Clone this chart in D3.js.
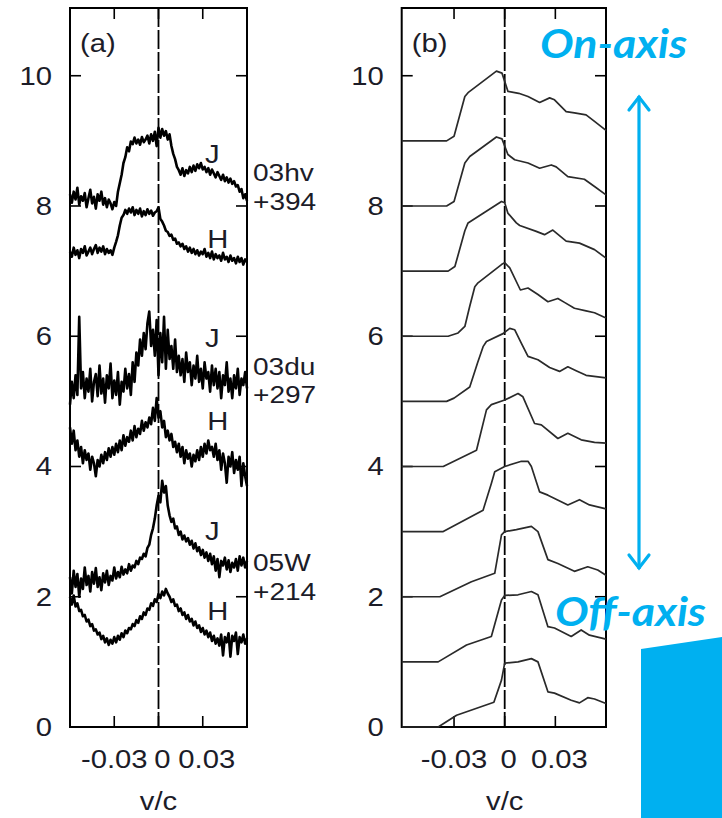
<!DOCTYPE html>
<html><head><meta charset="utf-8">
<script src="https://cdn.jsdelivr.net/npm/d3@7"></script>
<style>
html,body{margin:0;padding:0;background:#fff;}
svg{display:block;}
</style></head><body>
<svg id="fig" width="722" height="818"></svg>
<script>
// ---------- panel (a): observed line profiles, sampled on a regular velocity grid ----------
const obsStart = -0.06, obsStep = 0.00125;
const hvJ = [8.18,8.05,8.22,8.10,8.28,8.02,8.15,8.08,8.20,7.98,
  8.12,8.25,8.04,8.14,7.96,8.18,8.08,8.22,8.02,8.12,
  7.98,8.10,8.04,7.95,8.06,8.00,8.22,8.35,8.48,8.66,
  8.75,8.90,8.84,8.99,8.95,9.05,8.96,9.02,8.94,9.06,
  8.98,9.02,9.08,8.96,9.10,9.00,9.14,8.92,9.20,9.05,
  9.18,9.08,9.15,9.02,9.10,8.92,8.80,8.72,8.60,8.55,
  8.48,8.58,8.46,8.55,8.50,8.60,8.52,8.62,8.54,8.64,
  8.58,8.66,8.56,8.60,8.52,8.58,8.48,8.56,8.50,8.44,
  8.52,8.46,8.40,8.48,8.38,8.44,8.36,8.42,8.34,8.38,
  8.30,8.32,8.22,8.26,8.12,8.18,8.08];
const hvH = [7.30,7.22,7.36,7.25,7.32,7.20,7.34,7.28,7.38,7.24,
  7.30,7.36,7.26,7.34,7.40,7.28,7.36,7.30,7.38,7.26,
  7.34,7.28,7.32,7.25,7.36,7.45,7.55,7.70,7.82,7.86,
  7.94,7.88,7.96,7.90,7.98,7.86,7.94,7.88,7.96,7.84,
  7.92,7.86,7.95,7.88,7.93,7.85,7.90,7.92,7.98,7.80,
  7.76,7.70,7.62,7.60,7.54,7.56,7.48,7.50,7.42,7.44,
  7.38,7.42,7.34,7.38,7.30,7.36,7.28,7.34,7.26,7.32,
  7.24,7.30,7.26,7.34,7.22,7.28,7.20,7.30,7.18,7.26,
  7.20,7.24,7.16,7.28,7.18,7.22,7.14,7.24,7.16,7.20,
  7.12,7.22,7.14,7.20,7.10,7.18,7.14];
const duJ = [4.95,5.30,5.05,5.40,5.10,6.30,5.20,5.45,5.05,5.35,
  5.15,5.50,5.00,5.30,5.42,5.08,5.55,5.12,5.35,4.98,
  5.40,5.20,5.58,5.05,5.32,5.10,5.45,4.95,5.30,5.15,
  5.50,5.20,5.42,5.10,5.60,5.30,5.75,5.55,5.95,5.70,
  6.05,5.80,6.20,6.38,5.85,6.10,5.70,6.25,5.40,6.05,
  5.60,6.30,5.50,6.10,5.65,5.85,5.50,5.95,5.45,5.70,
  5.40,5.65,5.30,5.75,5.45,5.60,5.25,5.55,5.35,5.70,
  5.30,5.50,5.20,5.60,5.35,5.45,5.15,5.55,5.25,5.50,
  5.20,5.45,5.05,5.40,5.25,5.60,5.15,5.35,5.05,5.40,
  5.20,5.50,5.10,5.35,5.25,5.45,5.20];
const duH = [4.60,4.35,4.55,4.25,4.40,4.15,4.30,4.05,4.25,4.10,
  4.20,3.95,4.15,4.05,3.85,4.10,4.00,4.18,4.05,4.22,
  4.10,4.28,4.15,4.30,4.18,4.35,4.22,4.40,4.25,4.48,
  4.32,4.45,4.38,4.55,4.40,4.62,4.45,4.58,4.50,4.70,
  4.55,4.68,4.60,4.75,4.65,4.90,4.70,5.05,4.75,4.85,
  4.60,4.70,4.45,4.55,4.40,4.50,4.30,4.38,4.22,4.35,
  4.15,4.30,4.05,4.25,4.12,4.20,4.00,4.18,4.08,4.25,
  4.10,4.30,4.15,4.35,4.20,4.40,4.25,4.30,4.15,4.35,
  4.10,4.25,3.95,4.20,4.05,3.75,4.15,4.00,4.22,3.90,
  4.10,3.95,4.15,3.70,4.05,3.85,3.70];
const wJ = [2.30,2.05,2.40,2.15,2.35,2.00,2.28,2.12,2.45,2.18,
  2.32,2.08,2.38,2.20,2.44,2.15,2.30,2.10,2.36,2.22,
  2.40,2.18,2.32,2.25,2.45,2.28,2.38,2.30,2.46,2.34,
  2.42,2.36,2.50,2.40,2.48,2.45,2.55,2.50,2.60,2.58,
  2.66,2.62,2.75,2.80,2.95,3.05,3.20,3.40,3.55,3.45,
  3.78,3.60,3.70,3.40,3.25,3.15,3.20,3.05,3.08,2.95,
  3.00,2.88,2.94,2.85,2.90,2.80,2.86,2.74,2.82,2.70,
  2.76,2.64,2.72,2.60,2.68,2.55,2.66,2.50,2.62,2.40,
  2.58,2.30,2.55,2.48,2.60,2.42,2.56,2.38,2.52,2.45,
  2.58,2.40,2.62,2.48,2.60,2.45,2.55];
const wH = [2.00,1.88,2.02,1.85,1.90,1.78,1.80,1.70,1.72,1.62,
  1.65,1.55,1.58,1.48,1.50,1.42,1.45,1.35,1.40,1.30,
  1.36,1.26,1.34,1.28,1.38,1.30,1.40,1.34,1.44,1.38,
  1.48,1.44,1.52,1.50,1.58,1.55,1.64,1.60,1.70,1.66,
  1.76,1.72,1.82,1.80,1.90,1.86,1.96,1.92,2.04,1.98,
  2.08,2.02,2.12,2.05,2.00,1.92,1.96,1.86,1.88,1.78,
  1.82,1.72,1.76,1.66,1.72,1.62,1.66,1.56,1.62,1.52,
  1.56,1.46,1.52,1.42,1.48,1.38,1.45,1.32,1.40,1.28,
  1.36,1.25,1.42,1.10,1.38,1.30,1.44,1.08,1.40,1.32,
  1.45,1.12,1.38,1.30,1.42,1.28,1.36];

// band letters beside each observed profile: [label, v, level]
const bandLabels = [["J",0.0315,8.66],["H",0.033,7.35],["J",0.0315,5.83],["H",0.033,4.56],["J",0.0315,2.87],["H",0.033,1.64]];
// object names and epochs: [label, level]
const objectNames = [["03hv",8.39],["03du",5.40],["05W",2.40]];
const objectEpochs = [["+394",7.94],["+297",4.97],["+214",1.95]];

// ---------- panel (b): model profiles from on-axis (top) to off-axis (bottom) ----------
const model9 = [[-0.061,9.0],[-0.0344,9.0],[-0.030,9.07],[-0.0236,9.68],[-0.0217,9.74],[-0.0049,10.07],[-0.0016,10.04],[0.0019,9.76],[0.0083,9.73],[0.0138,9.68],[0.0207,9.59],[0.0266,9.66],[0.0295,9.63],[0.0364,9.45],[0.0413,9.43],[0.0482,9.40],[0.0532,9.30],[0.060,9.16]];
const model8 = [[-0.061,8.0],[-0.0344,8.0],[-0.030,8.07],[-0.0236,8.66],[-0.0207,8.76],[-0.0049,9.06],[-0.0016,9.03],[0.0019,8.79],[0.0059,8.71],[0.0138,8.66],[0.0207,8.58],[0.0276,8.63],[0.0305,8.60],[0.0374,8.45],[0.0472,8.41],[0.0532,8.30],[0.060,8.17]];
const model7 = [[-0.061,7.0],[-0.0335,7.0],[-0.0295,7.07],[-0.0236,7.62],[-0.0217,7.74],[-0.0019,8.07],[0.0,8.05],[0.0019,7.89],[0.0069,7.74],[0.0089,7.70],[0.0187,7.61],[0.0236,7.56],[0.0285,7.63],[0.0364,7.46],[0.0443,7.43],[0.0532,7.33],[0.060,7.2]];
const model6 = [[-0.061,6.0],[-0.0335,6.0],[-0.0276,6.05],[-0.0236,6.15],[-0.0207,6.46],[-0.0177,6.76],[-0.0158,6.82],[-0.0019,7.10],[0.0,7.13],[0.0030,7.05],[0.0093,6.71],[0.0138,6.74],[0.0197,6.64],[0.0256,6.53],[0.0315,6.58],[0.0354,6.52],[0.0413,6.43],[0.0482,6.39],[0.0532,6.36],[0.060,6.28]];
const model5 = [[-0.061,5.0],[-0.0344,5.0],[-0.0300,5.05],[-0.0207,5.22],[-0.0161,5.59],[-0.0128,5.84],[-0.0108,5.92],[-0.0010,6.04],[0.0030,6.12],[0.0059,6.10],[0.0099,5.89],[0.0138,5.69],[0.0197,5.64],[0.0266,5.52],[0.0325,5.46],[0.0374,5.53],[0.0423,5.47],[0.0482,5.40],[0.060,5.36]];
const model4 = [[-0.061,4.0],[-0.0364,4.0],[-0.0167,4.25],[-0.0108,4.87],[-0.0079,4.95],[0.0,5.02],[0.0079,5.12],[0.0108,5.07],[0.0177,4.66],[0.0217,4.64],[0.0315,4.43],[0.0374,4.51],[0.0453,4.41],[0.0532,4.37],[0.060,4.36]];
const model3 = [[-0.061,3.0],[-0.0364,3.0],[-0.0128,3.33],[-0.0079,3.74],[-0.0059,3.92],[0.0,4.0],[0.0099,4.08],[0.0138,4.08],[0.0158,4.0],[0.0207,3.61],[0.0256,3.56],[0.0374,3.41],[0.0443,3.49],[0.0502,3.41],[0.060,3.35]];
const model2 = [[-0.061,2.0],[-0.0384,2.0],[-0.0197,2.23],[-0.0059,2.36],[-0.0019,2.95],[0.0,3.0],[0.0069,3.03],[0.0158,3.08],[0.0197,3.0],[0.0256,2.57],[0.0315,2.51],[0.0413,2.39],[0.0492,2.46],[0.0551,2.41],[0.060,2.33]];
const model1 = [[-0.061,1.0],[-0.0394,1.0],[-0.0226,1.26],[-0.0079,1.39],[-0.0019,1.95],[0.0,2.02],[0.0079,2.03],[0.0158,2.08],[0.0197,2.03],[0.0256,1.54],[0.0295,1.52],[0.0394,1.39],[0.0453,1.49],[0.0502,1.41],[0.060,1.35]];
const model0 = [[-0.061,0.0],[-0.0394,0.0],[-0.0285,0.18],[-0.0064,0.38],[-0.0019,0.72],[0.0,0.98],[0.0079,1.0],[0.0158,1.05],[0.0197,1.0],[0.0256,0.54],[0.0295,0.52],[0.0394,0.41],[0.0443,0.37],[0.0492,0.45],[0.0532,0.43],[0.060,0.36]];

// axes
const yTicks = [0,2,4,6,8,10];
const xTicks = [-0.03,0,0.03];
const xTickText = ["-0.03","0","0.03"];

// ---------- drawing ----------
const svg = d3.select("#fig");
const FONT = "'Liberation Sans', Arial, sans-serif";
const INK = "#1c1c28";
const BLUE = "#00B0F0";
const TOP = 8, BOTTOM = 727;
const y = d3.scaleLinear().domain([0, 11.04]).range([BOTTOM, TOP]);
const xA = d3.scaleLinear().domain([-0.06, 0.06]).range([70, 247]);
const xB = d3.scaleLinear().domain([-0.061, 0.06]).range([401.7, 606]);

// text slightly wider than the font's natural proportions
function label(g, str, x, yy, anchor, size) {
  return g.append("text")
    .attr("transform", `translate(${x},${yy}) scale(1.17,1)`)
    .attr("text-anchor", anchor || "start")
    .attr("font-family", FONT)
    .attr("font-size", size || 25)
    .attr("fill", INK)
    .text(str);
}

function frame(x, tag) {
  const g = svg.append("g");
  const [x0, x1] = x.range();
  const TL = 11;
  // zero-velocity reference
  g.append("line").attr("x1", x(0)).attr("x2", x(0)).attr("y1", TOP).attr("y2", BOTTOM)
    .attr("stroke", "#000").attr("stroke-width", 1.8).attr("stroke-dasharray", "19,3");
  // ticks
  yTicks.forEach(t => {
    g.append("line").attr("x1", x0).attr("x2", x0 + TL).attr("y1", y(t)).attr("y2", y(t)).attr("stroke", "#000").attr("stroke-width", 1.6);
    g.append("line").attr("x1", x1 - TL).attr("x2", x1).attr("y1", y(t)).attr("y2", y(t)).attr("stroke", "#000").attr("stroke-width", 1.6);
    label(g, String(t), x0 - 18, y(t) + 9, "end");
  });
  xTicks.forEach((t, i) => {
    g.append("line").attr("x1", x(t)).attr("x2", x(t)).attr("y1", TOP).attr("y2", TOP + TL).attr("stroke", "#000").attr("stroke-width", 1.6);
    g.append("line").attr("x1", x(t)).attr("x2", x(t)).attr("y1", BOTTOM - TL).attr("y2", BOTTOM).attr("stroke", "#000").attr("stroke-width", 1.6);
    label(g, xTickText[i], x(t) + (t >= 0 ? 4 : 0), 768, "middle");
  });
  g.append("rect").attr("x", x0).attr("y", TOP).attr("width", x1 - x0).attr("height", BOTTOM - TOP)
    .attr("fill", "none").attr("stroke", "#000").attr("stroke-width", 2);
  label(g, "v/c", x(0), 810, "middle");
  label(g, tag, x0 + 10, 52, "start");
  return g;
}

// panel (a)
const gA = frame(xA, "(a)");
const obsLine = d3.line().x((d, i) => xA(obsStart + i * obsStep)).y(d => y(d));
[hvJ, hvH, duJ, duH, wJ, wH].forEach(s => {
  gA.append("path").attr("d", obsLine(s)).attr("fill", "none")
    .attr("stroke", "#000").attr("stroke-width", 2.6).attr("stroke-linejoin", "round");
});
bandLabels.forEach(([t, v, lv]) => label(gA, t, xA(v), y(lv), "start"));
objectNames.forEach(([t, lv]) => label(gA, t, 253, y(lv), "start", 24));
objectEpochs.forEach(([t, lv]) => label(gA, t, 253, y(lv), "start", 24));

// panel (b)
const gB = frame(xB, "(b)");
const modelLine = d3.line().x(d => xB(d[0])).y(d => y(d[1]));
[model0, model1, model2, model3, model4, model5, model6, model7, model8, model9].forEach(m => {
  gB.append("path").attr("d", modelLine(m)).attr("fill", "none")
    .attr("stroke", "#2a2a2a").attr("stroke-width", 1.7).attr("stroke-linejoin", "round");
});

// viewing-angle annotation
const ann = svg.append("g");
const ax = 639, aTop = 95, aBot = 570;
ann.append("line").attr("x1", ax).attr("x2", ax).attr("y1", aTop + 1).attr("y2", aBot - 1)
  .attr("stroke", BLUE).attr("stroke-width", 3.2);
ann.append("path").attr("d", `M${ax - 10},${aTop + 15} L${ax},${aTop + 2} L${ax + 10},${aTop + 15}`)
  .attr("fill", "none").attr("stroke", BLUE).attr("stroke-width", 3.2).attr("stroke-linecap", "round");
ann.append("path").attr("d", `M${ax - 10},${aBot - 15} L${ax},${aBot - 2} L${ax + 10},${aBot - 15}`)
  .attr("fill", "none").attr("stroke", BLUE).attr("stroke-width", 3.2).attr("stroke-linecap", "round");
ann.append("text").attr("x", 540).attr("y", 58).attr("font-family", "Lato, 'Open Sans', sans-serif")
  .attr("font-weight", 700).attr("font-style", "italic").attr("font-size", 40)
  .attr("textLength", 147).attr("lengthAdjust", "spacingAndGlyphs")
  .attr("fill", BLUE).text("On-axis");
ann.append("text").attr("x", 555).attr("y", 626).attr("font-family", "Lato, 'Open Sans', sans-serif")
  .attr("font-weight", 700).attr("font-style", "italic").attr("font-size", 40)
  .attr("textLength", 151).attr("lengthAdjust", "spacingAndGlyphs")
  .attr("fill", BLUE).text("Off-axis");
ann.append("path").attr("d", "M641,649 L722,637 L722,818 L641,818 Z").attr("fill", BLUE);
</script>
</body></html>
